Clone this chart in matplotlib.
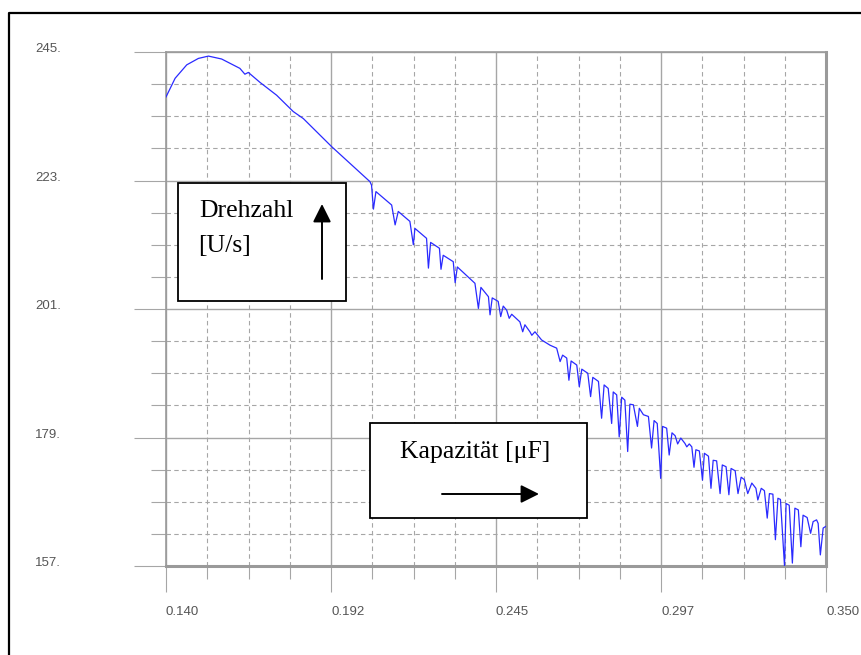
import matplotlib
matplotlib.use("Agg")
import matplotlib.pyplot as plt
from matplotlib.lines import Line2D
from matplotlib.patches import Rectangle, FancyArrowPatch

# --- data ------------------------------------------------------------------
cap_uF = [
    0.1400, 0.1429, 0.1466, 0.1503, 0.1535, 0.1577, 0.1635, 0.1651, 0.1662, 0.1699,
    0.1752, 0.1805, 0.1837, 0.1927, 0.1996, 0.2049, 0.2054, 0.2060, 0.2068, 0.2118,
    0.2129, 0.2139, 0.2176, 0.2187, 0.2192, 0.2229, 0.2235, 0.2242, 0.2270, 0.2275,
    0.2282, 0.2314, 0.2320, 0.2327, 0.2383, 0.2394, 0.2402, 0.2426, 0.2431, 0.2438,
    0.2457, 0.2465, 0.2473, 0.2484, 0.2492, 0.2500, 0.2526, 0.2535, 0.2542, 0.2558,
    0.2564, 0.2574, 0.2595, 0.2622, 0.2643, 0.2654, 0.2662, 0.2675, 0.2682, 0.2689,
    0.2707, 0.2715, 0.2723, 0.2742, 0.2751, 0.2758, 0.2776, 0.2786, 0.2794, 0.2807,
    0.2818, 0.2823, 0.2834, 0.2842, 0.2850, 0.2860, 0.2869, 0.2876, 0.2887, 0.2900,
    0.2906, 0.2919, 0.2935, 0.2945, 0.2953, 0.2963, 0.2974, 0.2980, 0.2993, 0.3001,
    0.3010, 0.3020, 0.3028, 0.3038, 0.3051, 0.3057, 0.3065, 0.3073, 0.3080, 0.3086,
    0.3097, 0.3107, 0.3113, 0.3126, 0.3134, 0.3141, 0.3152, 0.3163, 0.3170, 0.3182,
    0.3191, 0.3198, 0.3211, 0.3220, 0.3230, 0.3240, 0.3251, 0.3264, 0.3277, 0.3283,
    0.3294, 0.3304, 0.3313, 0.3320, 0.3331, 0.3339, 0.3347, 0.3355, 0.3368, 0.3373,
    0.3383, 0.3393, 0.3401, 0.3412, 0.3420, 0.3427, 0.3440, 0.3451, 0.3459, 0.3470,
    0.3475, 0.3482, 0.3491, 0.3500,
]
drehzahl = [
    237.3, 240.5, 242.8, 243.9, 244.3, 243.8, 242.2, 241.2, 241.5, 239.8,
    237.6, 234.8, 233.6, 228.8, 225.4, 222.8, 222.2, 218.1, 221.1, 218.8,
    215.4, 217.7, 216.0, 212.0, 214.8, 213.1, 208.0, 212.4, 211.4, 207.8,
    210.2, 209.1, 205.5, 208.2, 205.4, 201.1, 204.7, 203.1, 200.0, 202.9,
    202.3, 199.7, 201.5, 200.8, 199.4, 200.1, 198.8, 197.1, 198.3, 197.1,
    196.5, 197.1, 195.7, 194.8, 194.3, 192.0, 193.1, 192.6, 188.8, 192.1,
    191.4, 187.7, 190.7, 190.0, 186.0, 189.3, 188.6, 182.3, 188.0, 187.4,
    181.4, 186.8, 186.3, 179.1, 185.9, 185.4, 176.6, 184.7, 184.6, 180.9,
    184.0, 182.9, 182.6, 177.2, 181.9, 181.4, 172.0, 180.9, 180.6, 176.0,
    179.8, 179.3, 177.9, 178.9, 178.0, 177.4, 177.9, 177.4, 173.9, 176.9,
    176.7, 171.7, 176.3, 175.8, 170.3, 175.1, 175.0, 169.4, 174.3, 174.0,
    169.2, 173.7, 173.3, 169.4, 172.2, 171.8, 169.4, 171.2, 170.3, 168.3,
    170.3, 169.9, 165.2, 169.4, 169.3, 161.5, 168.6, 168.4, 157.0, 167.7,
    167.4, 157.5, 166.9, 166.6, 160.3, 165.7, 165.3, 162.6, 164.6, 164.9,
    164.3, 158.9, 163.5, 163.8,
]

x_major = [0.140, 0.1925, 0.245, 0.2975, 0.350]
x_labels = ["0.140", "0.192", "0.245", "0.297", "0.350"]
x_minor = [0.140 + i * 0.013125 for i in range(17)]
y_major = [157, 179, 201, 223, 245]
y_labels = ["157.", "179.", "201.", "223.", "245."]
y_minor = [157 + i * 5.5 for i in range(17)]

W, H = 861, 655
GRID = "#a6a6a6"
TICKFONT = ["Liberation Sans", "DejaVu Sans"]


def fx(px):
    return px / W


def fy(py):
    return 1 - py / H


fig = plt.figure(figsize=(W / 100, H / 100), dpi=100)
ax = fig.add_axes([fx(166), fy(566), fx(826) - fx(166), fy(52) - fy(566)])

ax.plot(cap_uF, drehzahl, color="#2a2aff", lw=0.9, zorder=3)
ax.set_xlim(0.140, 0.350)
ax.set_ylim(157, 245)

# grid: solid majors, dashed minors
ax.set_xticks(x_major)
ax.set_xticks(x_minor, minor=True)
ax.set_yticks(y_major)
ax.set_yticks(y_minor, minor=True)
ax.grid(which="major", color=GRID, lw=1.0, ls="-", zorder=1)
ax.grid(which="minor", color=GRID, lw=0.8, ls=(0, (4, 3)), zorder=1)
ax.set_axisbelow(True)

for s in ax.spines.values():
    s.set_color("#9a9a9a")
    s.set_linewidth(1.2)
ax.spines["right"].set_linewidth(2.2)
ax.spines["bottom"].set_linewidth(2.2)

ax.tick_params(axis="y", which="major", length=23, width=0.8, color=GRID,
               pad=71, labelcolor="#555555", labelsize=9.5)
ax.tick_params(axis="y", which="minor", length=10.8, width=0.8, color=GRID)
ax.tick_params(axis="x", which="major", length=18.7, width=0.8, color=GRID,
               pad=10, labelcolor="#555555", labelsize=9.5)
ax.tick_params(axis="x", which="minor", length=9.4, width=0.8, color=GRID)

ax.set_yticklabels(y_labels, ha="left", va="baseline", family=TICKFONT)
ax.set_xticklabels(x_labels, ha="left", family=TICKFONT)

# --- outer frame (top and left edges only visible) ---------------------------
fig.add_artist(Line2D([fx(9), fx(9), fx(861)], [fy(655), fy(13), fy(13)],
                      color="black", lw=1.6, transform=fig.transFigure))

# --- annotation boxes --------------------------------------------------------
serif = ["Liberation Serif", "DejaVu Serif"]

fig.add_artist(Rectangle((fx(178), fy(301)), fx(346) - fx(178), fy(183) - fy(301),
                         facecolor="white", edgecolor="black", lw=1.3,
                         transform=fig.transFigure, zorder=5))
fig.text(fx(199), fy(217), "Drehzahl", family=serif, fontsize=18.5,
         va="baseline", ha="left", zorder=6)
fig.text(fx(198), fy(252), "[U/s]", family=serif, fontsize=18.5,
         va="baseline", ha="left", zorder=6)
fig.add_artist(FancyArrowPatch((fx(322), fy(279)), (fx(322), fy(204)),
                               arrowstyle="-|>,head_length=1.1,head_width=0.55",
                               mutation_scale=10, color="black", lw=1.4,
                               shrinkA=0, shrinkB=0,
                               transform=fig.transFigure, zorder=6))

fig.add_artist(Rectangle((fx(370), fy(518)), fx(587) - fx(370), fy(423) - fy(518),
                         facecolor="white", edgecolor="black", lw=1.3,
                         transform=fig.transFigure, zorder=5))
fig.text(fx(400), fy(458), "Kapazität [μF]", family=serif, fontsize=18.5,
         va="baseline", ha="left", zorder=6)
fig.add_artist(FancyArrowPatch((fx(442), fy(494)), (fx(539), fy(494)),
                               arrowstyle="-|>,head_length=1.1,head_width=0.55",
                               mutation_scale=10, color="black", lw=1.4,
                               shrinkA=0, shrinkB=0,
                               transform=fig.transFigure, zorder=6))

fig.savefig("out.png", dpi=100)
